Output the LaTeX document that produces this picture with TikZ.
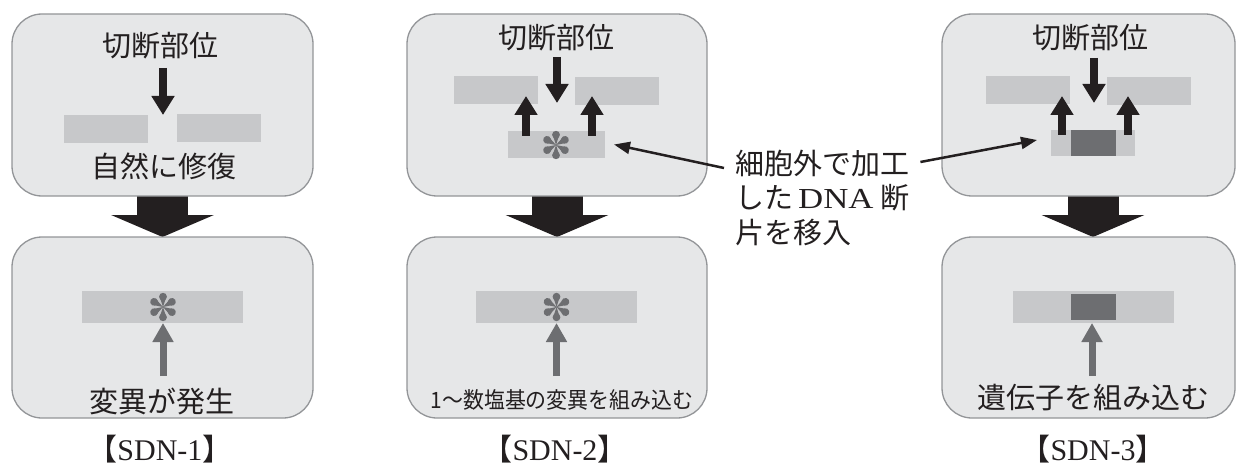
\documentclass[tikz,border=0pt]{standalone}
\usepackage{fontspec}
\usepackage{graphicx}
\setmainfont{Liberation Serif}
\newfontfamily\cjk{Noto Sans CJK JP}
\usetikzlibrary{arrows.meta,calc}
\definecolor{boxfill}{HTML}{E6E7E8}
\definecolor{boxline}{HTML}{939598}
\definecolor{barc}{HTML}{C7C8CA}
\definecolor{agray}{HTML}{6D6E71}
\definecolor{blackc}{HTML}{231F20}
\tikzset{
  panel/.style={draw=boxline, fill=boxfill, line width=1.3pt, rounded corners=30pt, inner sep=0pt, outer sep=0pt},
  bar/.style={fill=barc, inner sep=0pt, outer sep=0pt},
  darkbar/.style={fill=agray, inner sep=0pt, outer sep=0pt},
  jtext/.style={font=\cjk\fontsize{29}{29}\selectfont, text=blackc, inner sep=0pt},
  jsmall/.style={font=\cjk\fontsize{22.5}{22.5}\selectfont, text=blackc, inner sep=0pt},
  capt/.style={font=\fontsize{30}{30}\selectfont, text=blackc, inner sep=0pt},
  blk/.style={draw=blackc, line width=8pt, -{Triangle[width=22pt,length=19pt]}},
  gry/.style={draw=agray, line width=7pt, -{Triangle[width=20pt,length=19pt]}},
  bigarrow/.style={draw=blackc, line width=51pt, -{Triangle[width=102pt,length=22pt]}},
  callout/.style={draw=blackc, line width=2.5pt, -{Triangle[width=12pt,length=16pt]}},
  astk/.pic={
    \foreach \a in {0,60,120,180,240,300}{
      \fill[agray,rotate=\a] (0,0) -- (-3.4,10.3) -- (3.4,10.3) -- cycle;
      \fill[agray,rotate=\a] (0,10.3) circle (3.9);
    }
  }
}
\begin{document}
\begin{tikzpicture}[x=1pt,y=-1pt]
\useasboundingbox (0,0) rectangle (1236,468);

% big transition arrows (drawn first, under the boxes)
\coordinate (a1s) at (162.5,196); \coordinate (a1e) at (162.5,237);
\coordinate (a2s) at (557,196);   \coordinate (a2e) at (557,237);
\coordinate (a3s) at (1093,196);  \coordinate (a3e) at (1093,237);
\draw[bigarrow] (a1s) -- (a1e);
\draw[bigarrow] (a2s) -- (a2e);
\draw[bigarrow] (a3s) -- (a3e);

% panels
\node[panel, minimum width=301, minimum height=182] (b1t) at (162.5,105) {};
\node[panel, minimum width=301, minimum height=181] (b1b) at (162.5,327.5) {};
\node[panel, minimum width=300, minimum height=182] (b2t) at (557,105) {};
\node[panel, minimum width=300, minimum height=181] (b2b) at (557,327.5) {};
\node[panel, minimum width=293, minimum height=182] (b3t) at (1088.5,105) {};
\node[panel, minimum width=293, minimum height=181] (b3b) at (1088.5,327.5) {};

% ---------- SDN-1 ----------
\node[jtext] (c1) at (160,46) {切断部位};
\node[bar, minimum width=84, minimum height=28] (p1l) at (106,129) {};
\node[bar, minimum width=84, minimum height=28] (p1r) at (219,128) {};
\coordinate (g1) at (163,115);
\draw[blk] (163,68) -- (g1);
\node[jtext] (r1) at (163.5,166) {自然に修復};
\node[bar, minimum width=161, minimum height=32] (q1) at (162.5,307) {};
\pic at (163,307) {astk};
\node[jtext] (m1) at (161.5,401) {変異が発生};
\draw[gry] (163,376) -- (q1.south -| 163,0);

% ---------- SDN-2 ----------
\node[jtext] (c2) at (556.5,38) {切断部位};
\node[bar, minimum width=84, minimum height=28] (p2l) at (496,90) {};
\node[bar, minimum width=84, minimum height=28] (p2r) at (617,91) {};
\node[bar, minimum width=97, minimum height=27] (p2s) at (556.5,144.5) {};
\pic at (556,145) {astk};
\draw[blk] (557,57) -- (557,103);
\draw[blk] (526,136) -- (526,96);
\draw[blk] (592,136) -- (592,96);
\node[bar, minimum width=161, minimum height=32] (q2) at (556.5,307) {};
\pic at (556.5,307) {astk};
\node[jsmall] (m2) at (562,400) {\scalebox{0.93}[1]{1〜数塩基の変異を組み込む}};
\draw[gry] (556.5,376) -- (q2.south);

% ---------- SDN-3 ----------
\node[jtext] (c3) at (1090,38) {切断部位};
\node[bar, minimum width=84, minimum height=28] (p3l) at (1028,90) {};
\node[bar, minimum width=84, minimum height=28] (p3r) at (1149,91) {};
\node[bar, minimum width=84, minimum height=26] (p3s) at (1093,143) {};
\node[darkbar, minimum width=45, minimum height=26] (p3d) at (1093.5,143) {};
\draw[blk] (1094,58) -- (1094,103);
\draw[blk] (1062,135) -- (1062,96);
\draw[blk] (1128,135) -- (1128,96);
\node[bar, minimum width=161, minimum height=32] (q3) at (1093.5,307) {};
\node[darkbar, minimum width=45, minimum height=26] (q3d) at (1093.5,307) {};
\node[jtext] (m3) at (1093.5,398) {遺伝子を組み込む};
\draw[gry] (1092,376) -- (1092,323);

% ---------- callout label ----------
\node[jtext, anchor=west] (la) at (735,163) {細胞外で加工};
\node[jtext, anchor=west] (lb) at (735,198) {した\hspace{5pt}{\fontspec{Liberation Serif}\scalebox{1.2}[1]{DNA}}\hspace{7pt}断};
\node[jtext, anchor=west] (lc) at (735,233) {片を移入};
\draw[callout] ($(la.west)+(-11,5)$) -- ($(p2s.east)+(9,0)$);
\draw[callout] ($(la.east)+(11,-1)$) -- ($(p3s.west)+(-14,-3)$);

% captions
\node[capt] (s1) at (160,449) {{\cjk 【}SDN-1{\cjk 】}};
\node[capt] (s2) at (555,449) {{\cjk 【}SDN-2{\cjk 】}};
\node[capt] (s3) at (1093,449) {{\cjk 【}SDN-3{\cjk 】}};
\end{tikzpicture}
\end{document}
